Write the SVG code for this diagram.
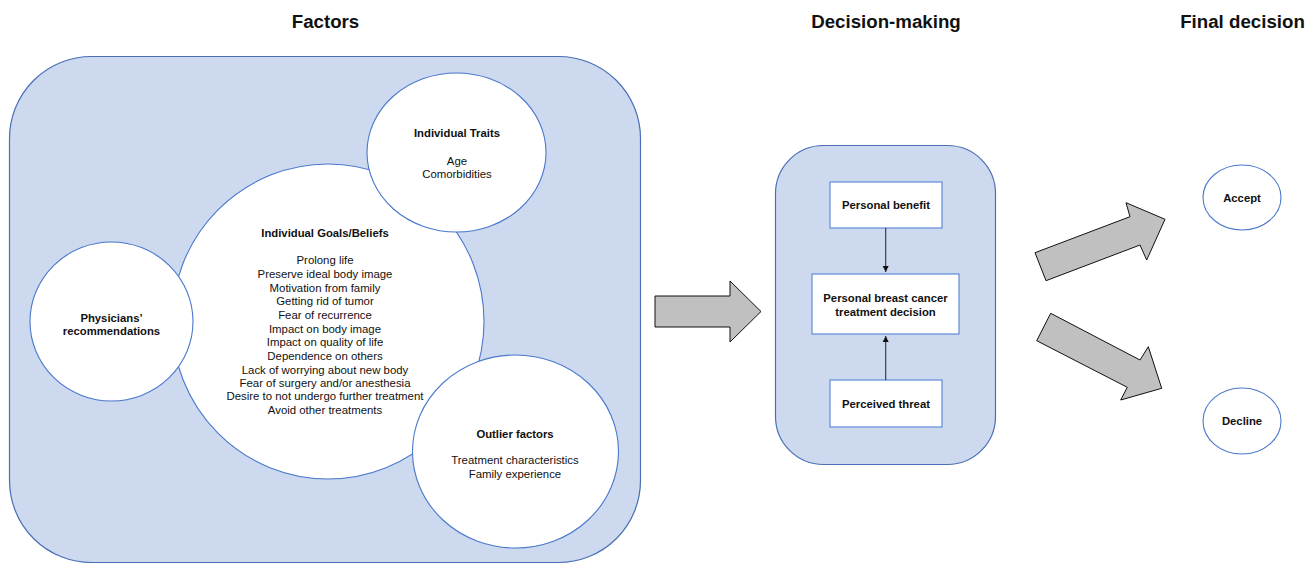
<svg xmlns="http://www.w3.org/2000/svg" width="1314" height="565" viewBox="0 0 1314 565">
<defs>
<style>
text{font-family:"Liberation Sans",Arial,sans-serif;fill:#111;text-anchor:middle}
.h{font-size:18.7px;font-weight:bold}
.b{font-size:11.3px;font-weight:bold}
.r{font-size:11.4px}
.panel{fill:#ccd9ef;stroke:#4a6fb5;stroke-width:1.2}
.node{fill:#fff;stroke:#4a78cc;stroke-width:1.1}
.box{fill:#fff;stroke:#6a93dc;stroke-width:1.3}
.big{fill:#c0c0c0;stroke:#111;stroke-width:1}
.conn{stroke:#333;stroke-width:1.1;fill:none}
</style>
<marker id="ah" markerWidth="8" markerHeight="8" refX="6" refY="4" orient="auto" markerUnits="userSpaceOnUse">
<path d="M0,1 L6,4 L0,7 Z" fill="#111"/>
</marker>
</defs>
<rect width="1314" height="565" fill="#fff"/>
<text class="h" x="325.5" y="28">Factors</text>
<text class="h" x="886" y="28">Decision-making</text>
<text class="h" x="1242.5" y="28">Final decision</text>

<g id="factors-panel"><rect class="panel" x="9.5" y="56.5" width="631" height="506" rx="82" ry="82"/></g>

<g id="goals">
<ellipse class="node" cx="328" cy="321.5" rx="156" ry="157.5"/>
<text class="b" x="325" y="237">Individual Goals/Beliefs</text>
<text class="r" x="325" y="264">Prolong life</text>
<text class="r" x="325" y="278">Preserve ideal body image</text>
<text class="r" x="325" y="292">Motivation from family</text>
<text class="r" x="325" y="305">Getting rid of tumor</text>
<text class="r" x="325" y="319">Fear of recurrence</text>
<text class="r" x="325" y="333">Impact on body image</text>
<text class="r" x="325" y="346">Impact on quality of life</text>
<text class="r" x="325" y="360">Dependence on others</text>
<text class="r" x="325" y="374">Lack of worrying about new body</text>
<text class="r" x="325" y="387">Fear of surgery and/or anesthesia</text>
<text class="r" x="325" y="400">Desire to not undergo further treatment</text>
<text class="r" x="325" y="414">Avoid other treatments</text>
</g>

<g id="traits">
<ellipse class="node" cx="456.5" cy="152.5" rx="89.5" ry="79.5"/>
<text class="b" x="457" y="137">Individual Traits</text>
<text class="r" x="457" y="165">Age</text>
<text class="r" x="457" y="178">Comorbidities</text>
</g>

<g id="physicians">
<ellipse class="node" cx="111.5" cy="321.5" rx="81.5" ry="79.5"/>
<text class="b" x="111.5" y="322">Physicians’</text>
<text class="b" x="111.5" y="335">recommendations</text>
</g>

<g id="outlier">
<ellipse class="node" cx="515.5" cy="451.5" rx="103" ry="96.5"/>
<text class="b" x="515" y="438">Outlier factors</text>
<text class="r" x="515" y="464">Treatment characteristics</text>
<text class="r" x="515" y="478">Family experience</text>
</g>

<g id="decision-panel"><rect class="panel" x="775.5" y="145.5" width="220" height="319" rx="48" ry="48"/></g>

<g id="benefit">
<rect class="box" x="830" y="182" width="112" height="46"/>
<text class="b" x="886" y="209">Personal benefit</text>
</g>
<g id="decision">
<rect class="box" x="812" y="274" width="147" height="60"/>
<text class="b" x="885.5" y="302">Personal breast cancer</text>
<text class="b" x="885.5" y="316">treatment decision</text>
</g>
<g id="threat">
<rect class="box" x="830" y="380" width="112" height="47"/>
<text class="b" x="886" y="408">Perceived threat</text>
</g>

<g id="accept">
<ellipse class="node" cx="1242" cy="197.5" rx="39" ry="32.5"/>
<text class="b" x="1242" y="202">Accept</text>
</g>
<g id="decline">
<ellipse class="node" cx="1242" cy="421" rx="39" ry="33"/>
<text class="b" x="1242" y="425">Decline</text>
</g>

<g id="connectors">
<line class="conn" x1="885.7" y1="228" x2="885.7" y2="272" marker-end="url(#ah)"/>
<line class="conn" x1="885.7" y1="380" x2="885.7" y2="336" marker-end="url(#ah)"/>
<polygon class="big" points="655,296 730,296 730,281 761,311.5 730,342 730,327 655,327"/>
<polygon class="big" points="1035,252.7 1130,216.7 1126,202.7 1165,219.3 1146.7,260 1140,245 1046,280.7"/>
<polygon class="big" points="1050.7,313.3 1140,360 1148.3,346.7 1161.7,388.3 1120.7,400 1127.3,387.3 1036.7,340.7"/>
</g>
</svg>
